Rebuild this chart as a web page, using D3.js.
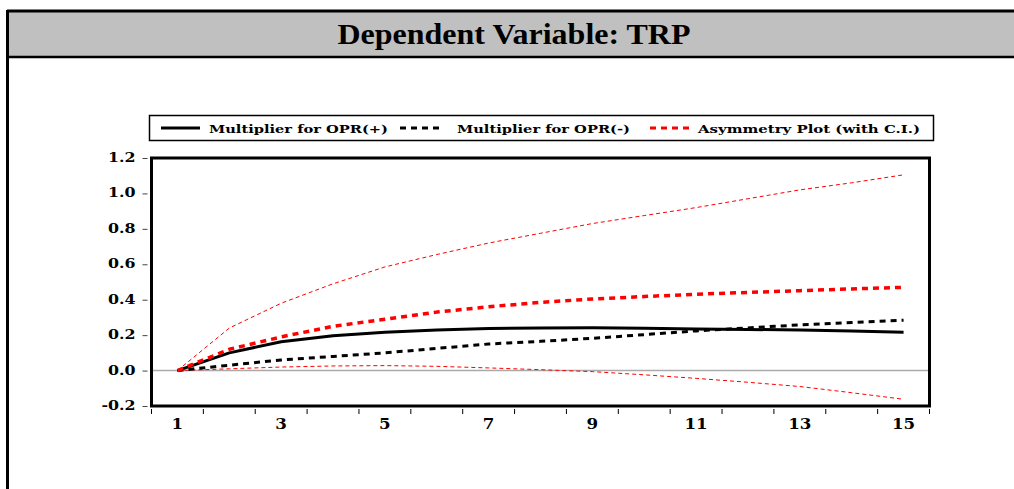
<!DOCTYPE html>
<html>
<head>
<meta charset="utf-8">
<script src="https://cdn.jsdelivr.net/npm/d3@7"></script>
<style>
  body { margin: 0; background: #fff; }
  svg text { font-family: "DejaVu Serif", serif; font-weight: bold; }
</style>
</head>
<body>
<svg id="graph"></svg>
<script>
var periods = [1,2,3,4,5,6,7,8,9,10,11,12,13,14,15]
var xLabels = ["1","3","5","7","9","11","13","15"]
var yTicks = [-0.2, 0.0, 0.2, 0.4, 0.6, 0.8, 1.0, 1.2]
var multPlus = [0, 0.10, 0.163, 0.197, 0.216, 0.229, 0.237, 0.241, 0.242, 0.239, 0.235, 0.232, 0.229, 0.223, 0.216]
var multMinus = [0, 0.03, 0.06, 0.08, 0.10, 0.125, 0.15, 0.165, 0.182, 0.203, 0.224, 0.241, 0.258, 0.271, 0.284]
var asym = [0, 0.12, 0.19, 0.25, 0.29, 0.33, 0.36, 0.385, 0.404, 0.418, 0.431, 0.441, 0.451, 0.461, 0.47]
var ciUpper = [0, 0.24, 0.38, 0.49, 0.585, 0.655, 0.72, 0.775, 0.83, 0.875, 0.92, 0.97, 1.02, 1.06, 1.105]
var ciLower = [0, 0.01, 0.02, 0.026, 0.028, 0.024, 0.015, 0.005, -0.006, -0.024, -0.044, -0.066, -0.09, -0.125, -0.162]
var legendNames = ["Multiplier for OPR(+)", "Multiplier for OPR(-)", "Asymmetry Plot (with C.I.)"]

var width = 1014
var height = 489
var svg = d3.select("#graph").attr("width", width).attr("height", height)

// the original's text is drawn wider than the font's natural width
var stretch = function(sel, k) {
  sel.each(function() {
    var w = this.getComputedTextLength()
    d3.select(this).attr("textLength", w * k).attr("lengthAdjust", "spacingAndGlyphs")
  })
}

// outer frame and title band
svg.append("rect").attr("x", 7).attr("y", 11).attr("width", 1020).attr("height", 46)
   .attr("fill", "#c0c0c0")
svg.append("line").attr("x1", 7).attr("x2", 1014).attr("y1", 11).attr("y2", 11)
   .attr("stroke", "#000").attr("stroke-width", 3)
svg.append("line").attr("x1", 7).attr("x2", 1014).attr("y1", 57).attr("y2", 57)
   .attr("stroke", "#000").attr("stroke-width", 2.5)
svg.append("line").attr("x1", 7.5).attr("x2", 7.5).attr("y1", 10).attr("y2", 489)
   .attr("stroke", "#000").attr("stroke-width", 3)
svg.append("text").attr("x", 514).attr("y", 44).attr("text-anchor", "middle")
   .style("font-family", "'Liberation Serif', serif").style("font-size", "29px")
   .attr("textLength", 353).attr("lengthAdjust", "spacingAndGlyphs")
   .text("Dependent Variable: TRP")

var plotLeft = 151.5, plotRight = 929.5, plotTop = 158, plotBottom = 406
var xScale = d3.scaleBand().domain(periods).range([plotLeft, plotRight])
var xPos = function(d) { return xScale(d) + xScale.bandwidth() / 2 }
var yScale = d3.scaleLinear().domain([-0.2, 1.2]).range([plotBottom, plotTop])

// zero line
svg.append("line").attr("x1", plotLeft).attr("x2", plotRight)
   .attr("y1", yScale(0)).attr("y2", yScale(0))
   .attr("stroke", "#aaaaaa").attr("stroke-width", 1.5)

// y axis
var fmt = d3.format(".1f")
var yAxis = svg.append("g").attr("transform", "translate(" + (plotLeft - 4) + ",0)")
  .call(d3.axisLeft(yScale).tickValues(yTicks)
        .tickFormat(function(d) { return fmt(d).replace("\u2212", "-") })
        .tickSize(5).tickPadding(7))
yAxis.select(".domain").remove()
yAxis.selectAll("line").attr("stroke", "#444")
yAxis.selectAll("text").style("font-size", "12px").attr("fill", "#000").attr("dy", "3.5")
stretch(yAxis.selectAll("text"), 1.32)

// x axis: ticks at category edges, labels on odd periods
var edges = periods.map(function(d) { return xScale(d) }).concat([plotRight])
svg.selectAll("line.xtick").data(edges).enter().append("line")
   .attr("class", "xtick")
   .attr("x1", function(d) { return d }).attr("x2", function(d) { return d })
   .attr("y1", plotBottom + 3).attr("y2", plotBottom + 8)
   .attr("stroke", "#000").attr("stroke-width", 1)
var xl = svg.selectAll("text.xlab").data(xLabels).enter().append("text")
   .attr("class", "xlab")
   .attr("x", function(d) { return xPos(+d) })
   .attr("y", plotBottom + 23)
   .attr("text-anchor", "middle").style("font-size", "14.5px")
   .text(function(d) { return d })
stretch(xl, 1.15)

// series
var line = d3.line().x(function(d, i) { return xPos(periods[i]) }).y(function(d) { return yScale(d) })
var series = [
  {v: ciUpper, color: "#ff0000", w: 1, dash: "4,3"},
  {v: ciLower, color: "#ff0000", w: 1, dash: "4,3"},
  {v: multMinus, color: "#000", w: 3, dash: "6,5"},
  {v: multPlus, color: "#000", w: 3, dash: null},
  {v: asym, color: "#ff0000", w: 3.5, dash: "6,5"}
]
svg.selectAll("path.series").data(series).enter().append("path")
   .attr("class", "series")
   .attr("d", function(s) { return line(s.v) })
   .attr("fill", "none")
   .attr("stroke", function(s) { return s.color })
   .attr("stroke-width", function(s) { return s.w })
   .attr("stroke-linejoin", "round")
   .attr("stroke-dasharray", function(s) { return s.dash })

// plot frame
svg.append("rect").attr("x", plotLeft).attr("y", plotTop)
   .attr("width", plotRight - plotLeft).attr("height", plotBottom - plotTop)
   .attr("fill", "none").attr("stroke", "#000").attr("stroke-width", 3)

// legend
svg.append("rect").attr("x", 149.5).attr("y", 115.5).attr("width", 784).attr("height", 25)
   .attr("fill", "#fff").attr("stroke", "#000").attr("stroke-width", 1.5)
var legendItems = [
  {name: legendNames[0], color: "#000", dash: null, x0: 161, x1: 200, tx: 209, tw: 179},
  {name: legendNames[1], color: "#000", dash: "6,5", x0: 400, x1: 443, tx: 457, tw: 173},
  {name: legendNames[2], color: "#ff0000", dash: "6,5", x0: 650, x1: 689, tx: 698, tw: 222}
]
var lg = svg.selectAll("g.leg").data(legendItems).enter().append("g").attr("class", "leg")
lg.append("line").attr("x1", function(d) { return d.x0 }).attr("x2", function(d) { return d.x1 })
  .attr("y1", 128).attr("y2", 128)
  .attr("stroke", function(d) { return d.color }).attr("stroke-width", 3)
  .attr("stroke-dasharray", function(d) { return d.dash })
lg.append("text").attr("x", function(d) { return d.tx }).attr("y", 132.5)
  .style("font-size", "11px")
  .attr("textLength", function(d) { return d.tw }).attr("lengthAdjust", "spacingAndGlyphs")
  .text(function(d) { return d.name })
</script>
</body>
</html>
